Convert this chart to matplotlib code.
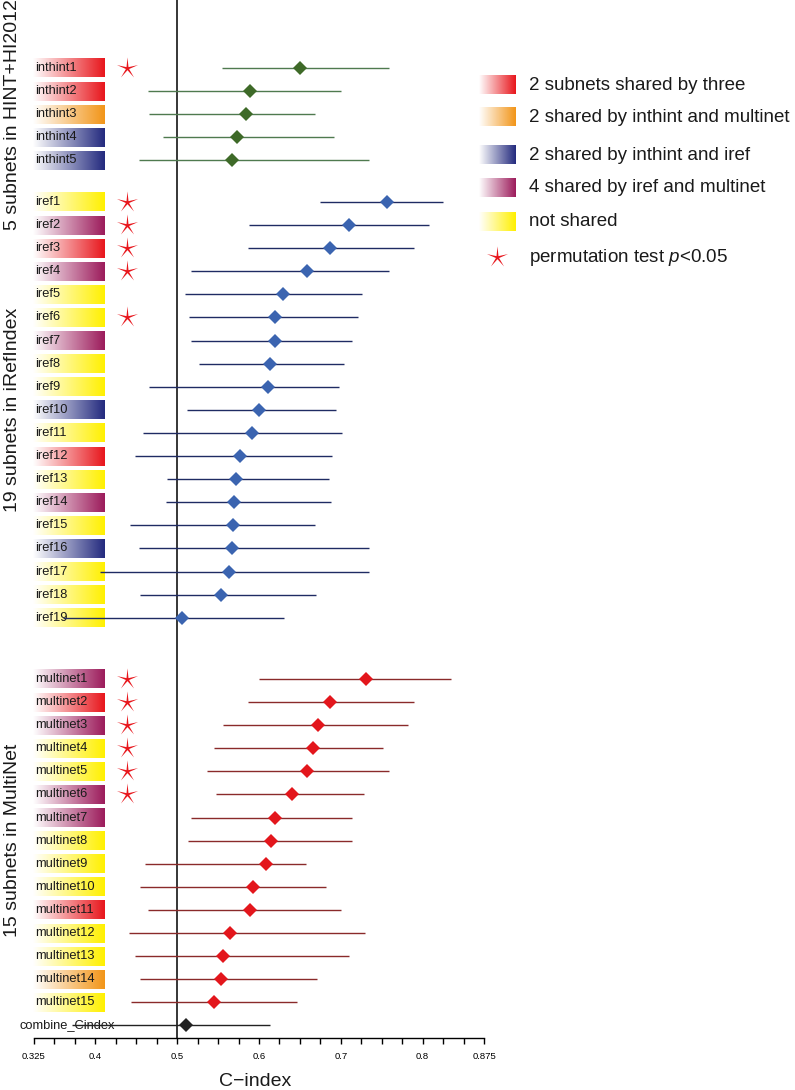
import numpy as np
import matplotlib.pyplot as plt
from matplotlib.colors import LinearSegmentedColormap
from matplotlib.path import Path

plt.rcParams['font.family'] = ['Liberation Sans', 'DejaVu Sans']
plt.rcParams['mathtext.fontset'] = 'custom'
plt.rcParams['mathtext.rm'] = 'Liberation Sans'
plt.rcParams['mathtext.it'] = 'Liberation Sans:italic'

# ---- data ----
inthint_names = ['inthint1', 'inthint2', 'inthint3', 'inthint4', 'inthint5']
inthint_est = [0.650, 0.589, 0.584, 0.573, 0.567]
inthint_lo = [0.555, 0.464, 0.465, 0.483, 0.453]
inthint_hi = [0.759, 0.700, 0.669, 0.692, 0.734]
inthint_share = ['three', 'three', 'int_multi', 'int_iref', 'int_iref']
inthint_sig = [1, 0, 0, 0, 0]

iref_names = ['iref%d' % i for i in range(1, 20)]
iref_est = [0.757, 0.710, 0.687, 0.659, 0.629, 0.620, 0.619, 0.614, 0.611, 0.600,
            0.591, 0.577, 0.572, 0.570, 0.568, 0.567, 0.563, 0.554, 0.506]
iref_lo = [0.675, 0.588, 0.586, 0.517, 0.509, 0.515, 0.517, 0.527, 0.465, 0.512,
           0.458, 0.448, 0.487, 0.486, 0.442, 0.453, 0.406, 0.454, 0.360]
iref_hi = [0.825, 0.808, 0.790, 0.759, 0.726, 0.721, 0.714, 0.704, 0.698, 0.694,
           0.702, 0.689, 0.685, 0.688, 0.669, 0.734, 0.734, 0.670, 0.631]
iref_share = ['none', 'iref_multi', 'three', 'iref_multi', 'none', 'none', 'iref_multi',
              'none', 'none', 'int_iref', 'none', 'three', 'none', 'iref_multi', 'none',
              'int_iref', 'none', 'none', 'none']
iref_sig = [1, 1, 1, 1, 0, 1, 0, 0, 0, 0, 0, 0, 0, 0, 0, 0, 0, 0, 0]

multi_names = ['multinet%d' % i for i in range(1, 16)]
multi_est = [0.731, 0.687, 0.672, 0.666, 0.659, 0.640, 0.620, 0.615, 0.609, 0.593,
             0.589, 0.564, 0.556, 0.553, 0.545]
multi_lo = [0.600, 0.586, 0.556, 0.545, 0.536, 0.548, 0.517, 0.513, 0.461, 0.455,
            0.464, 0.441, 0.449, 0.454, 0.444]
multi_hi = [0.835, 0.790, 0.782, 0.752, 0.759, 0.728, 0.714, 0.714, 0.658, 0.682,
            0.700, 0.730, 0.710, 0.671, 0.646]
multi_share = ['iref_multi', 'three', 'iref_multi', 'none', 'none', 'iref_multi',
               'iref_multi', 'none', 'none', 'none', 'three', 'none', 'none',
               'int_multi', 'none']
multi_sig = [1, 1, 1, 1, 1, 1, 0, 0, 0, 0, 0, 0, 0, 0, 0]

combine_est, combine_lo, combine_hi = 0.511, 0.371, 0.614

share_colors = {'three': '#e8161c', 'int_multi': '#f29518', 'int_iref': '#232a7e',
                'iref_multi': '#9c1b5b', 'none': '#fff000'}
legend_keys = ['three', 'int_multi', 'int_iref', 'iref_multi', 'none']
legend_labels = ['2 subnets shared by three', '2 shared by inthint and multinet',
                 '2 shared by inthint and iref', '4 shared by iref and multinet',
                 'not shared']

xticks_major = [0.325, 0.4, 0.5, 0.6, 0.7, 0.8, 0.875]


def star_marker(n=5, inner=0.15):
    ang = np.pi / 2 + np.arange(2 * n) * np.pi / n
    r = np.where(np.arange(2 * n) % 2 == 0, 1.0, inner)
    verts = np.column_stack([r * np.cos(ang), r * np.sin(ang)])
    verts = np.vstack([verts, verts[:1]])
    codes = [Path.MOVETO] + [Path.LINETO] * (2 * n - 1) + [Path.CLOSEPOLY]
    return Path(verts, codes)


STAR = star_marker()

fig = plt.figure(figsize=(7.95, 10.9), dpi=100)
ax = fig.add_axes([0, 0, 1, 1])

# pixel -> data helpers for the layout
row_px, top_px = 23.1, 68.0
x0_px, scale = 34.0, 818.2


def px_x(p):
    return 0.325 + (p - x0_px) / scale


def px_y(p):
    return (p - top_px) / row_px


bar_left, bar_right = px_x(33), px_x(105)
bar_h = 0.82
star_x = px_x(127)


def grad_bar(x0, x1, y, h, color):
    cmap = LinearSegmentedColormap.from_list('g', ['#ffffff', color])
    grad = np.linspace(0, 1, 256).reshape(1, -1)
    ax.imshow(grad, extent=[x0, x1, y + h / 2, y - h / 2], cmap=cmap,
              aspect='auto', zorder=1, interpolation='bilinear')


def draw_group(names, est, lo, hi, share, sig, y0, line_c, mark_c):
    ys = y0 + np.arange(len(names))
    for i, y in enumerate(ys):
        grad_bar(bar_left, bar_right, y, bar_h, share_colors[share[i]])
        ax.text(px_x(35), y, names[i], fontsize=9.3, va='center', ha='left',
                color='#1a1a1a', zorder=2)
        if sig[i]:
            ax.plot(star_x, y, marker=STAR, ms=16, color='#e8161c', mew=0, zorder=3)
    ax.hlines(ys, lo, hi, color=line_c, lw=1.0, zorder=3)
    ax.plot(est, ys, 'D', ms=7, color=mark_c, mew=0, zorder=4)
    return ys


g1 = draw_group(inthint_names, inthint_est, inthint_lo, inthint_hi, inthint_share,
                inthint_sig, 0.0, '#4f7a4f', '#3e6a28')
g2 = draw_group(iref_names, iref_est, iref_lo, iref_hi, iref_share, iref_sig,
                g1[-1] + 1.8, '#1f2b63', '#3b64b0')
g3 = draw_group(multi_names, multi_est, multi_lo, multi_hi, multi_share, multi_sig,
                g2[-1] + 2.65, '#8a2a2a', '#e3161c')

y_comb = g3[-1] + 1.0
ax.hlines(y_comb, combine_lo, combine_hi, color='#222222', lw=1.0, zorder=3)
ax.plot(combine_est, y_comb, 'D', ms=7, color='#222222', mew=0, zorder=4)
ax.text(px_x(20), y_comb, 'combine_Cindex', fontsize=9.3, va='center', ha='left',
        color='#1a1a1a', zorder=2)

# group titles
for ys, title in [(g1, '5 subnets in HINT+HI2012'), (g2, '19 subnets in iRefIndex'),
                  (g3, '15 subnets in MultiNet')]:
    ax.text(px_x(13), ys.mean(), title, rotation=90, fontsize=14, ha='center',
            va='center', color='#1a1a1a')

# axis
axis_y = px_y(1038)
ax.plot([0.5, 0.5], [px_y(0), axis_y], color='black', lw=1.1, zorder=2)

# legend
leg_y = [px_y(p) for p in (85, 117, 155, 188, 222, 257)]
for k, key in enumerate(legend_keys):
    grad_bar(px_x(479), px_x(516), leg_y[k], 0.8, share_colors[key])
    ax.text(px_x(529), leg_y[k], legend_labels[k], fontsize=13.5, va='center',
            ha='left', color='#1a1a1a')
ax.plot(px_x(497), leg_y[5], marker=STAR, ms=16, color='#e8161c', mew=0)
ax.text(px_x(529), leg_y[5], 'permutation test $p$<0.05', fontsize=13.5,
        va='center', ha='left', color='#1a1a1a')

ax.set_xlim(px_x(0), px_x(795))
ax.set_ylim(px_y(1090), px_y(0))

for s in ['left', 'right', 'top']:
    ax.spines[s].set_visible(False)
ax.spines['bottom'].set_position(('data', axis_y))
ax.spines['bottom'].set_bounds(0.325, 0.875)
ax.spines['bottom'].set_linewidth(1.0)
ax.set_yticks([])
ax.set_xticks(xticks_major)
ax.set_xticklabels([str(t) for t in xticks_major], fontsize=6.8)
ax.set_xticks(np.arange(0.325, 0.8751, 0.025), minor=True)
ax.tick_params(axis='x', which='both', direction='out', length=4, width=1.0, pad=6)
ax.patch.set_alpha(0)

fig.text(255 / 795, 1 - 1082 / 1090, 'C\u2212index', fontsize=14,
         ha='center', va='center', color='#1a1a1a')

fig.savefig('out.png', dpi=100, facecolor='white')
